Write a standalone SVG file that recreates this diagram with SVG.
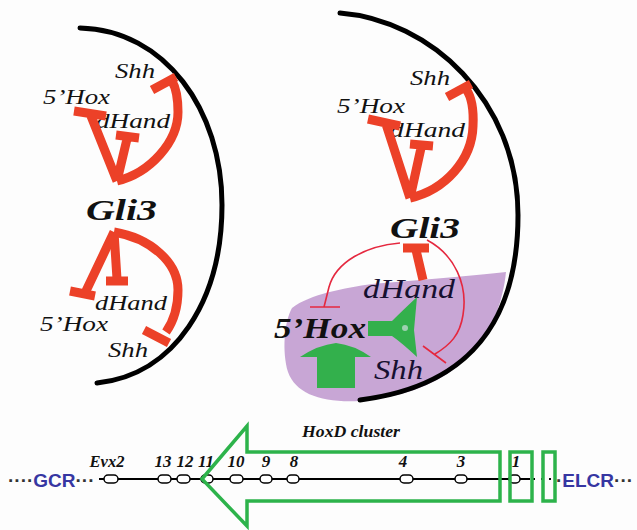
<svg xmlns="http://www.w3.org/2000/svg" width="637" height="530" viewBox="0 0 637 530">
<style>
.lbl{font-family:"Liberation Serif","Times New Roman",serif;font-style:italic;font-size:20px;fill:#111}
.big{font-family:"Liberation Serif","Times New Roman",serif;font-style:italic;font-weight:bold;font-size:30px;fill:#111}
.mid{font-family:"Liberation Serif","Times New Roman",serif;font-style:italic;font-size:28px;fill:#161030}
.gene{font-family:"Liberation Serif","Times New Roman",serif;font-style:italic;font-weight:bold;font-size:17px;fill:#111;text-anchor:middle}
.reg{font-family:"Liberation Sans",Arial,sans-serif;font-weight:bold;font-size:19px}
.arc{fill:none;stroke:#000;stroke-width:5;stroke-linecap:round}
.inh{fill:none;stroke:#ec4128;stroke-width:9;stroke-linecap:butt;stroke-linejoin:round}
.thin{fill:none;stroke:#e5283f;stroke-width:1.6}
.grn{fill:none;stroke:#2db34b;stroke-width:3.5}
.ov{fill:#fff;stroke:#000;stroke-width:1.5}
</style>
<rect width="637" height="530" fill="#fdfdfd"/>

<g id="left-panel">
  <path class="arc" d="M80,28 C165,30 222,110 222,205 C222,300 175,375 97,383"/>
  <text class="lbl" x="115" y="78" textLength="40" lengthAdjust="spacingAndGlyphs">Shh</text>
  <text class="lbl" x="43" y="104" textLength="67" lengthAdjust="spacingAndGlyphs">5’Hox</text>
  <text class="lbl" x="96" y="128" textLength="74" lengthAdjust="spacingAndGlyphs">dHand</text>
  <text class="big" x="86" y="220" textLength="71" lengthAdjust="spacingAndGlyphs">Gli3</text>
  <text class="lbl" x="95" y="310" textLength="72" lengthAdjust="spacingAndGlyphs">dHand</text>
  <text class="lbl" x="40" y="331" textLength="68" lengthAdjust="spacingAndGlyphs">5’Hox</text>
  <text class="lbl" x="108" y="357" textLength="40" lengthAdjust="spacingAndGlyphs">Shh</text>
  <path class="inh" d="M117,181 L91,116 M74,111 L106,116"/>
  <path class="inh" d="M117,181 L127,139 M116,135 L139,138"/>
  <path class="inh" d="M117,181 C150,173 178,142 178,112 C178,96 176,88 172,81 M152,90 L176,77"/>
  <path class="inh" d="M114,232 L86,291 M70,291 L95,296"/>
  <path class="inh" d="M114,232 L117,279 M106,281 L128,281"/>
  <path class="inh" d="M114,232 C150,238 178,262 178,290 C178,310 173,322 166,332 M144,330 L169,343"/>
</g>

<g id="right-panel">
  <path d="M292,308 C310,294 345,288 372,284 C420,280 470,276 506,272 C500,330 465,392 360,401 C322,403 296,394 288,372 C282,352 284,322 292,308 Z" fill="#c8a6d5"/>
  <path class="arc" d="M340,13 C430,20 518,100 518,215 C518,310 480,385 360,400"/>
  <text class="lbl" x="410" y="85" textLength="40" lengthAdjust="spacingAndGlyphs">Shh</text>
  <text class="lbl" x="337" y="113" textLength="68" lengthAdjust="spacingAndGlyphs">5’Hox</text>
  <text class="lbl" x="390" y="137" textLength="75" lengthAdjust="spacingAndGlyphs">dHand</text>
  <text class="big" x="390" y="238" textLength="70" lengthAdjust="spacingAndGlyphs">Gli3</text>
  <text class="mid" x="363" y="298" textLength="92" lengthAdjust="spacingAndGlyphs">dHand</text>
  <text class="big" x="274" y="338" textLength="92" lengthAdjust="spacingAndGlyphs">5’Hox</text>
  <text class="mid" x="374" y="379" textLength="49" lengthAdjust="spacingAndGlyphs">Shh</text>
  <path class="inh" d="M410,198 L386,124 M368,119 L400,126"/>
  <path class="inh" d="M410,198 L421,148 M410,144 L433,146"/>
  <path class="inh" d="M410,198 C445,190 472,160 473,126 C474,106 471,96 466,89 M447,97 L471,84"/>
  <path class="inh" d="M423,280 L416,250 M403,248 L429,248"/>
  <path class="thin" d="M400,243 C365,246 336,262 329,287 L324,307 M310,307 L340,307"/>
  <path class="thin" d="M427,240 C455,255 468,285 463,315 C460,335 450,345 435,354 M423,346 L446,363"/>
  <path d="M368,321 L392,321 Q402,311 417,297 L414,330 L417,357 Q402,343 392,336 L368,336 Z" fill="#33b04c"/>
  <circle cx="405" cy="328" r="3" fill="#9fd0b0"/>
  <path d="M317,388 L317,357 L300,357 Q318,345 336,343 Q354,345 371,357 L355,357 L355,388 Z" fill="#33b04c"/>
</g>

<g id="hoxd-locus">
  <line x1="99" y1="479" x2="530" y2="479" stroke="#000" stroke-width="2"/>
  <line x1="533" y1="479" x2="556" y2="479" stroke="#000" stroke-width="2" stroke-dasharray="2 6"/>
  <text class="reg" x="8" y="487"><tspan fill="#333">····</tspan><tspan fill="#3636a2">GCR</tspan><tspan fill="#333">···</tspan></text>
  <text class="reg" x="556" y="487"><tspan fill="#333">·</tspan><tspan fill="#3636a2">ELCR</tspan><tspan fill="#333">···</tspan></text>
  <g>
    <rect class="ov" x="104" y="475" width="14" height="8" rx="4"/>
    <rect class="ov" x="158" y="475" width="13" height="8" rx="4"/>
    <rect class="ov" x="177" y="475" width="13" height="8" rx="4"/>
    <rect class="ov" x="201" y="475" width="12" height="8" rx="4"/>
    <rect class="ov" x="230" y="475" width="13" height="8" rx="4"/>
    <rect class="ov" x="260" y="475" width="12" height="8" rx="4"/>
    <rect class="ov" x="287" y="475" width="12" height="8" rx="4"/>
    <rect class="ov" x="400" y="475" width="13" height="8" rx="4"/>
    <rect class="ov" x="455" y="475" width="12" height="8" rx="4"/>
    <rect class="ov" x="509" y="475" width="11" height="8" rx="4"/>
  </g>
  <text class="gene" x="107" y="467" textLength="35" lengthAdjust="spacingAndGlyphs">Evx2</text>
  <text class="gene" x="163" y="467">13</text>
  <text class="gene" x="185" y="467">12</text>
  <text class="gene" x="206" y="467">11</text>
  <text class="gene" x="236" y="467">10</text>
  <text class="gene" x="266" y="467">9</text>
  <text class="gene" x="294" y="467">8</text>
  <text class="gene" x="403" y="467">4</text>
  <text class="gene" x="461" y="467">3</text>
  <text class="gene" x="516" y="467">1</text>
  <text class="gene" x="351" y="437" textLength="98" lengthAdjust="spacingAndGlyphs">HoxD cluster</text>
  <path class="grn" d="M202,479 L247,426 L247,452 L500,452 L500,501 L247,501 L247,526 Z"/>
  <rect class="grn" x="510" y="452" width="22" height="49"/>
  <rect class="grn" x="543" y="452" width="12" height="49"/>
</g>
</svg>
